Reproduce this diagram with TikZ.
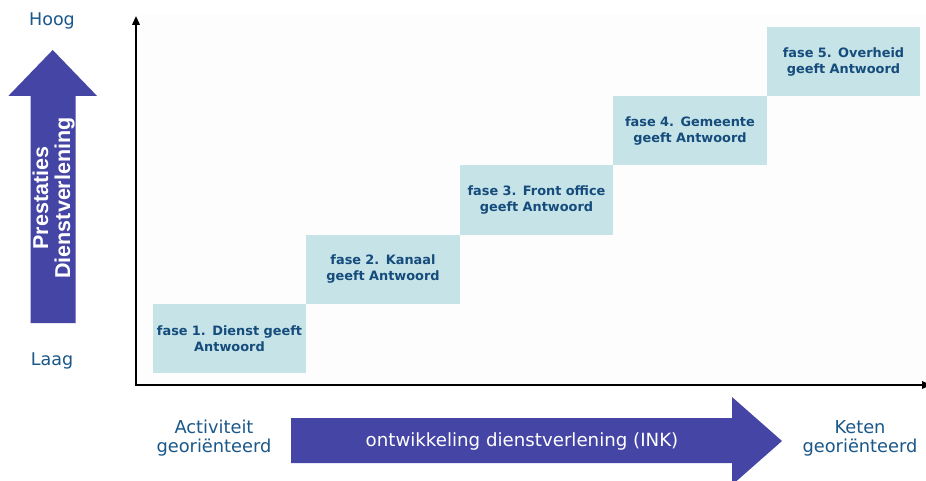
\documentclass[tikz,border=0pt]{standalone}
\usepackage{fontspec}
\usetikzlibrary{arrows.meta}
\newfontfamily\dvsans{DejaVu Sans}
\newfontfamily\arialish{Liberation Sans}
\definecolor{arrowblue}{RGB}{69,69,165}
\definecolor{phasefill}{RGB}{198,228,232}
\definecolor{phasetext}{RGB}{22,76,124}
\definecolor{labeltext}{RGB}{26,88,138}
\definecolor{chartbg}{RGB}{253,253,253}
\tikzset{
  phase/.style={rectangle, fill=phasefill, minimum width=153.5pt, minimum height=69.2pt,
    inner sep=0pt, text width=150pt, align=center, text=phasetext,
    font=\dvsans\bfseries\fontsize{12.9}{16}\selectfont},
  sidelabel/.style={text=labeltext, align=center, inner sep=0pt,
    font=\dvsans\fontsize{17.5}{19}\selectfont},
  axisline/.style={line width=2pt, -{Triangle[width=7.5pt,length=9pt]}},
  blockarrow/.style={fill=arrowblue},
}
\begin{document}
\begin{tikzpicture}[x=1pt,y=-1pt]
  \useasboundingbox (0,0) rectangle (926,481);
  \fill[white] (0,0) rectangle (926,481);
  % chart area
  \fill[chartbg] (140,14) rectangle (926,384);

  % phases as a staircase
  \node[phase] (f1) at (229.5,338.5) {fase 1. Dienst geeft\\Antwoord};
  \node[phase] (f2) at (383.0,269.3) {fase 2. Kanaal\\geeft Antwoord};
  \node[phase] (f3) at (536.5,200.1) {fase 3. Front office\\geeft Antwoord};
  \node[phase] (f4) at (690.0,130.9) {fase 4. Gemeente\\geeft Antwoord};
  \node[phase] (f5) at (843.5,61.7) {fase 5. Overheid\\geeft Antwoord};

  % axes
  \coordinate (origin) at (136,385);
  \coordinate (ytop) at (136,16);
  \coordinate (xend) at (931,385);
  \draw[axisline] (origin) -- (ytop);
  \draw[axisline] ([xshift=-1pt]origin) -- (xend);

  % vertical block arrow
  \fill[blockarrow] (30.7,323) -- (30.7,96) -- (8.3,96) -- (52.7,50) -- (97.1,96)
    -- (75.7,96) -- (75.7,323) -- cycle;
  \node[rotate=90, text=white, align=center, inner sep=0pt,
    font=\arialish\bfseries\fontsize{21.5}{22}\selectfont] (perf) at (53.5,198)
    {Prestaties\\Dienstverlening};
  \node[sidelabel] (hoog) at (52,21) {Hoog};
  \node[sidelabel] (laag) at (52,361) {Laag};

  % horizontal block arrow
  \fill[blockarrow] (291,418) -- (732,418) -- (732,397) -- (782,441) -- (732,485)
    -- (732,463) -- (291,463) -- cycle;
  \node[text=white, inner sep=0pt, font=\dvsans\fontsize{18.2}{20}\selectfont]
    (dev) at (522,441) {ontwikkeling dienstverlening (INK)};
  \node[sidelabel, font=\dvsans\fontsize{17.8}{19}\selectfont] (act) at (214,438)
    {Activiteit\\georiënteerd};
  \node[sidelabel, font=\dvsans\fontsize{17.8}{19}\selectfont] (chain) at (860,438)
    {Keten\\georiënteerd};
\end{tikzpicture}
\end{document}
